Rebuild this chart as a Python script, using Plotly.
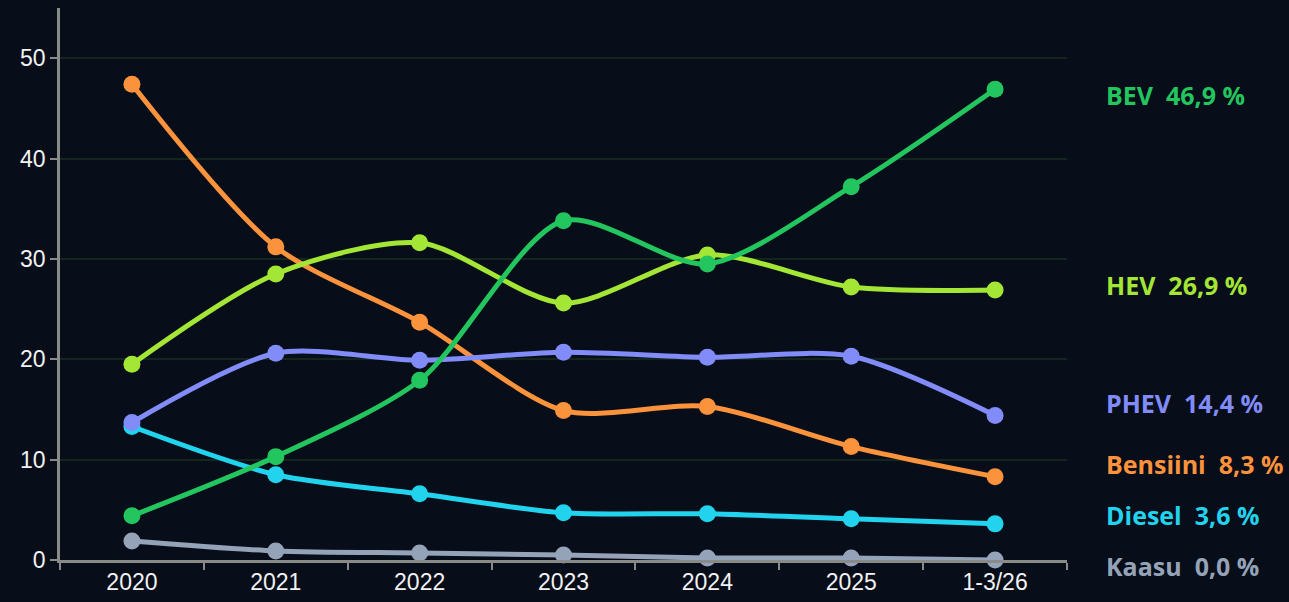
import plotly.graph_objects as go

# ── Colors ────────────────────────────────────────────────────────────────────
BG_COLOR = "#070d19"
AXIS_COLOR = "#8a8a8a"
GRID_COLOR = "#13261e"
TICK_COLOR = "#f2f2f2"

# ── Data (osuus ensirekisteröinneistä, %) ─────────────────────────────────────
periods = ["2020", "2021", "2022", "2023", "2024", "2025", "1-3/26"]

bev = [4.4, 10.3, 17.9, 33.8, 29.5, 37.2, 46.9]
hev = [19.5, 28.5, 31.6, 25.6, 30.4, 27.2, 26.9]
phev = [13.7, 20.6, 19.9, 20.7, 20.2, 20.3, 14.4]
bensiini = [47.4, 31.2, 23.7, 14.9, 15.3, 11.3, 8.3]
diesel = [13.3, 8.5, 6.6, 4.7, 4.6, 4.1, 3.6]
kaasu = [1.9, 0.9, 0.7, 0.5, 0.2, 0.2, 0.0]

series_names = ["BEV", "HEV", "PHEV", "Bensiini", "Diesel", "Kaasu"]
series_values = [bev, hev, phev, bensiini, diesel, kaasu]
series_colors = ["#22c55e", "#a3e635", "#818cf8", "#fb923c", "#22d3ee", "#94a3b8"]

Y_MAX = 55
# end labels are nudged apart so they don't overlap (paper fraction)
label_y = [0.843, 0.498, 0.285, 0.174, 0.082, -0.011]

fig = go.Figure()

# draw order: bottom-most first so the big lines sit on top
for name, vals, color in zip(reversed(series_names), reversed(series_values), reversed(series_colors)):
    fig.add_trace(
        go.Scatter(
            name=name,
            x=periods,
            y=vals,
            mode="lines+markers",
            line=dict(color=color, width=5, shape="spline", smoothing=0.8),
            marker=dict(size=17, color=color),
            cliponaxis=False,
            hovertemplate=f"<b>{name}</b><br>%{{x}}: %{{y:.1f}} %<extra></extra>",
        )
    )

for name, vals, color, ly in zip(series_names, series_values, series_colors, label_y):
    txt = f"{name}  {vals[-1]:.1f}".replace(".", ",") + " %"
    fig.add_annotation(
        text=f"<b>{txt}</b>",
        xref="paper",
        x=1.037,
        xanchor="left",
        yref="paper",
        y=ly,
        yanchor="middle",
        showarrow=False,
        font=dict(family="Open Sans, Noto Sans, sans-serif", size=25, color=color),
    )

fig.update_layout(
    width=1289,
    height=602,
    paper_bgcolor=BG_COLOR,
    plot_bgcolor=BG_COLOR,
    showlegend=False,
    margin=dict(l=60, r=222, t=8, b=42),
    font=dict(family="Liberation Sans, Arial, sans-serif", color=TICK_COLOR, size=23),
    xaxis=dict(
        type="category",
        range=[-0.5, 6.5],
        showgrid=False,
        showline=True,
        linecolor=AXIS_COLOR,
        linewidth=2.5,
        ticks="outside",
        tickson="boundaries",
        ticklen=7,
        tickwidth=2,
        tickcolor=AXIS_COLOR,
        tickfont=dict(color=TICK_COLOR, size=23),
        zeroline=False,
    ),
    yaxis=dict(
        range=[0, Y_MAX],
        tickvals=[0, 10, 20, 30, 40, 50],
        showgrid=True,
        gridcolor=GRID_COLOR,
        gridwidth=1.5,
        showline=True,
        linecolor=AXIS_COLOR,
        linewidth=2.5,
        ticks="outside",
        ticklen=7,
        tickwidth=2,
        tickcolor=AXIS_COLOR,
        tickfont=dict(color=TICK_COLOR, size=23),
        zeroline=False,
    ),
)

fig.write_html(
    "out.html",
    config={"displayModeBar": False},
    post_script=(
        "document.body.style.margin='0';"
        f"document.body.style.background='{BG_COLOR}';"
        "document.body.style.overflow='hidden';"
    ),
)
